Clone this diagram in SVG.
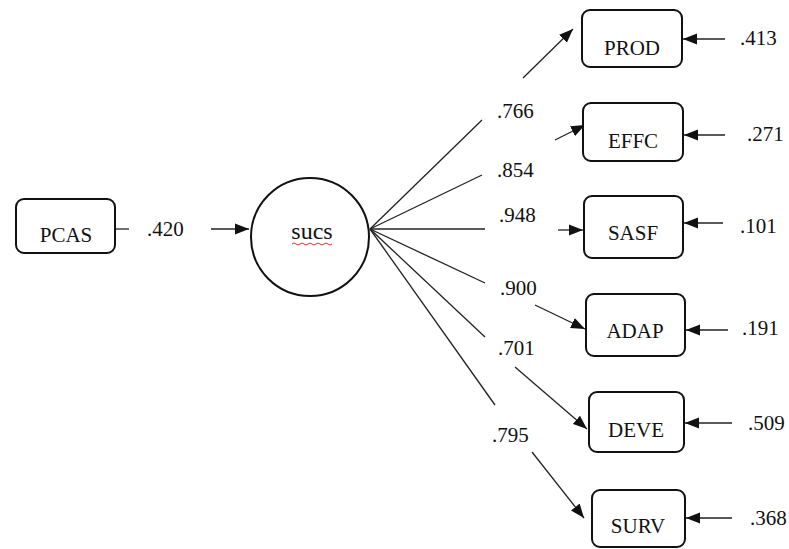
<svg xmlns="http://www.w3.org/2000/svg" width="789" height="549" viewBox="0 0 789 549">
<defs>
<style>
.box{fill:#fff;stroke:#111;stroke-width:2}
.mid{text-anchor:middle}
.ln{fill:none;stroke:#222;stroke-width:1.3}
.ar{fill:none;stroke:#222;stroke-width:1.3;marker-end:url(#ah)}
</style>
<marker id="ah" markerUnits="userSpaceOnUse" markerWidth="15" markerHeight="12" refX="14" refY="6" orient="auto">
<path d="M0,0.5 L14,6 L0,11.5 Z" fill="#111"/>
</marker>
</defs>
<rect width="789" height="549" fill="#fff"/>
<g font-family="Liberation Serif, Times New Roman, DejaVu Serif, serif" font-size="21" fill="#111">
<g id="connectors">
<line class="ln" x1="115" y1="229" x2="129" y2="229"/>
<line class="ar" x1="211" y1="229" x2="249" y2="229"/>
<line class="ln" x1="370" y1="229" x2="482" y2="120"/>
<line class="ar" x1="523" y1="78" x2="573" y2="29"/>
<line class="ln" x1="370" y1="229" x2="482" y2="175"/>
<line class="ar" x1="555" y1="140" x2="585" y2="125"/>
<line class="ln" x1="370" y1="229" x2="485" y2="229"/>
<line class="ar" x1="558" y1="230" x2="583" y2="230"/>
<line class="ln" x1="370" y1="229" x2="485" y2="283"/>
<line class="ar" x1="535" y1="305" x2="585" y2="329"/>
<line class="ln" x1="370" y1="229" x2="485" y2="337"/>
<line class="ar" x1="515" y1="367" x2="587" y2="429"/>
<line class="ln" x1="370" y1="229" x2="495" y2="405"/>
<line class="ar" x1="532" y1="452" x2="584" y2="518"/>
<line class="ar" x1="725" y1="39" x2="683" y2="39"/>
<line class="ar" x1="725" y1="135" x2="684" y2="135"/>
<line class="ar" x1="723" y1="223" x2="684" y2="223"/>
<line class="ar" x1="728" y1="330" x2="686" y2="330"/>
<line class="ar" x1="732" y1="423" x2="685" y2="423"/>
<line class="ar" x1="732" y1="518" x2="686" y2="518"/>
</g>
<g id="labels">
<text x="147" y="236">.420</text>
<text x="497" y="118">.766</text>
<text x="497" y="177">.854</text>
<text x="499" y="222">.948</text>
<text x="500" y="295">.900</text>
<text x="498" y="355">.701</text>
<text x="492" y="442">.795</text>
<text x="740" y="45">.413</text>
<text x="747" y="141">.271</text>
<text x="740" y="233">.101</text>
<text x="742" y="335">.191</text>
<text x="748" y="430">.509</text>
<text x="750" y="525">.368</text>
</g>
<g id="PCAS"><rect class="box" x="16" y="199" width="99" height="54" rx="8"/><text class="mid" x="66" y="242">PCAS</text></g>
<g id="sucs"><circle cx="310" cy="237" r="59" fill="#fff" stroke="#111" stroke-width="2"/><text class="mid" x="312" y="239" font-size="24">sucs</text>
<path d="M292,244 q2,-2 4,0 t4,0 t4,0 t4,0 t4,0 t4,0 t4,0 t4,0 t4,0 t4,0" fill="none" stroke="#d33" stroke-width="1"/></g>
<g id="PROD"><rect class="box" x="582" y="10" width="100" height="57" rx="8"/><text class="mid" x="632" y="55">PROD</text></g>
<g id="EFFC"><rect class="box" x="583" y="103" width="100" height="58" rx="8"/><text class="mid" x="633" y="148">EFFC</text></g>
<g id="SASF"><rect class="box" x="584" y="196" width="99" height="62" rx="8"/><text class="mid" x="633" y="240">SASF</text></g>
<g id="ADAP"><rect class="box" x="586" y="294" width="99" height="62" rx="8"/><text class="mid" x="635" y="338">ADAP</text></g>
<g id="DEVE"><rect class="box" x="589" y="392" width="95" height="60" rx="8"/><text class="mid" x="636" y="437">DEVE</text></g>
<g id="SURV"><rect class="box" x="592" y="490" width="93" height="57" rx="8"/><text class="mid" x="638" y="533">SURV</text></g>
</g>
</svg>
